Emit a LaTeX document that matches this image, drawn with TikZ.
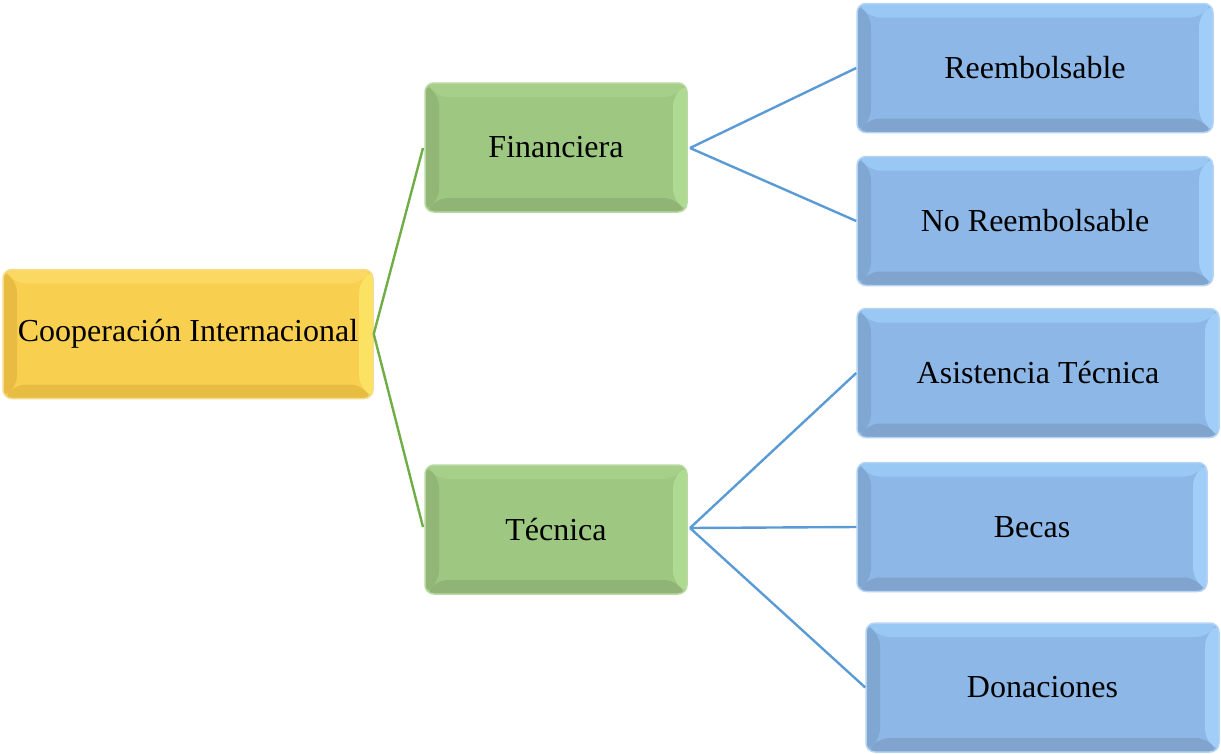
\documentclass[tikz,border=0pt]{standalone}
\usepackage{fontspec}
\setmainfont{Liberation Serif}
\definecolor{ymain}{HTML}{F8CF4E}
\definecolor{ytop}{HTML}{FAD862}
\definecolor{yright}{HTML}{FCE262}
\definecolor{ybot}{HTML}{E6BC42}
\definecolor{yleft}{HTML}{E8BC42}
\definecolor{yedge}{HTML}{F6DC8A}
\definecolor{gmain}{HTML}{9EC782}
\definecolor{gtop}{HTML}{A6D08A}
\definecolor{gright}{HTML}{AEDB91}
\definecolor{gbot}{HTML}{90B476}
\definecolor{gleft}{HTML}{91B675}
\definecolor{gedge}{HTML}{B9D9A2}
\definecolor{bmain}{HTML}{8CB7E6}
\definecolor{btop}{HTML}{98C8F3}
\definecolor{bright}{HTML}{A0CEF8}
\definecolor{bbot}{HTML}{80A4CE}
\definecolor{bleft}{HTML}{80A6D2}
\definecolor{bedge}{HTML}{B5D3F2}
\definecolor{gline}{HTML}{70AD47}
\definecolor{bline}{HTML}{5B9BD5}
\newcommand\bevelfill[5]{%
  \fill[#5] (path picture bounding box.south west) rectangle (path picture bounding box.north east);
  \fill[#1] (path picture bounding box.north west) -- (path picture bounding box.north east)
     -- ([shift={(-14pt,-14pt)}]path picture bounding box.north east)
     -- ([shift={(14pt,-14pt)}]path picture bounding box.north west) -- cycle;
  \fill[#2] (path picture bounding box.north east) -- (path picture bounding box.south east)
     -- ([shift={(-14pt,14pt)}]path picture bounding box.south east)
     -- ([shift={(-14pt,-14pt)}]path picture bounding box.north east) -- cycle;
  \fill[#3] (path picture bounding box.south east) -- (path picture bounding box.south west)
     -- ([shift={(14pt,14pt)}]path picture bounding box.south west)
     -- ([shift={(-14pt,14pt)}]path picture bounding box.south east) -- cycle;
  \fill[#4] (path picture bounding box.south west) -- (path picture bounding box.north west)
     -- ([shift={(14pt,-14pt)}]path picture bounding box.north west)
     -- ([shift={(14pt,14pt)}]path picture bounding box.south west) -- cycle;
}
\tikzset{
  box/.style={rounded corners=9pt, inner sep=0pt, minimum height=129pt,
    font=\fontsize{32}{38}\selectfont, text=black, line width=1.5pt},
  ybox/.style={box, draw=yedge, path picture={\bevelfill{ytop}{yright}{ybot}{yleft}{ymain}}},
  gbox/.style={box, draw=gedge, path picture={\bevelfill{gtop}{gright}{gbot}{gleft}{gmain}}},
  bbox/.style={box, draw=bedge, path picture={\bevelfill{btop}{bright}{bbot}{bleft}{bmain}}},
  gconn/.style={draw=gline, line width=2.4pt},
  bconn/.style={draw=bline, line width=2.4pt},
}
\begin{document}
\begin{tikzpicture}[x=1pt,y=1pt]
\useasboundingbox (0,0) rectangle (1221,-753);
\node[ybox, minimum width=370pt] (coop) at (188,-334) {Cooperación Internacional};
\node[gbox, minimum width=262pt] (fin) at (556,-147.5) {Financiera};
\node[gbox, minimum width=262pt] (tec) at (556,-529.5) {Técnica};
\node[bbox, minimum width=356pt] (r1) at (1035,-68) {Reembolsable};
\node[bbox, minimum width=356pt] (r2) at (1035,-221) {No Reembolsable};
\node[bbox, minimum width=362pt] (t1) at (1038,-373) {Asistencia Técnica};
\node[bbox, minimum width=350pt] (t2) at (1032,-527) {Becas};
\node[bbox, minimum width=353pt] (t3) at (1042.5,-687.5) {Donaciones};
\coordinate (cA) at (423,-148);
\coordinate (cB) at (423,-527);
\path[gconn] (coop.east) -- (cA) (coop.east) -- (cB);
\coordinate (fE) at (690,-148);
\coordinate (tE) at (690,-528);
\path[bconn] (fE) -- (r1.west) (fE) -- (r2.west);
\path[bconn] (tE) -- (t1.west) (tE) -- (t2.west) (tE) -- (t3.west);
\end{tikzpicture}
\end{document}
